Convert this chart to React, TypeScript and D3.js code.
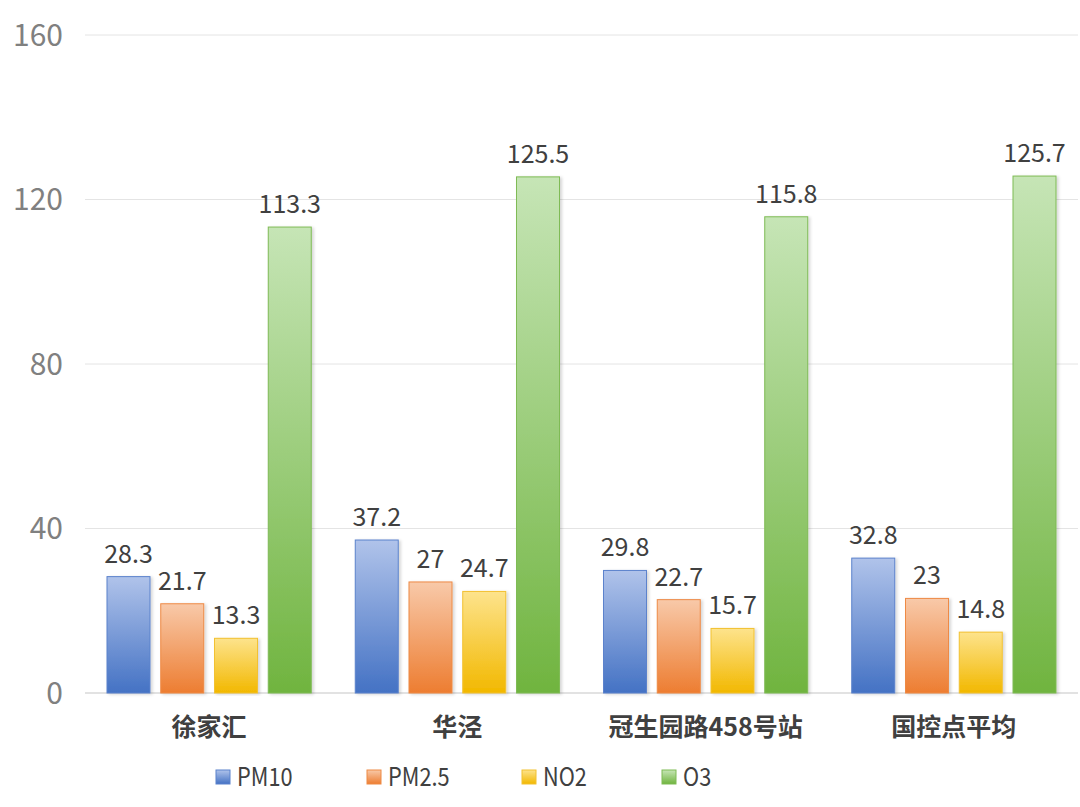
import React from 'react';
import * as d3 from 'd3';

const categories = ['徐家汇', '华泾', '冠生园路458号站', '国控点平均'];
const seriesNames = ['PM10', 'PM2.5', 'NO2', 'O3'];
const pm10 = [28.3, 37.2, 29.8, 32.8];
const pm25 = [21.7, 27, 22.7, 23];
const no2 = [13.3, 24.7, 15.7, 14.8];
const o3 = [113.3, 125.5, 115.8, 125.7];
const yTicks = [0, 40, 80, 120, 160];

const seriesValues = [pm10, pm25, no2, o3];
const colors = [
  { top: '#b0c3ea', bottom: '#4472c4', stroke: '#5b82cc' },
  { top: '#f8c9a9', bottom: '#ed7d31', stroke: '#ee8a45' },
  { top: '#fde38c', bottom: '#f2b800', stroke: '#f2c130' },
  { top: '#c6e5b6', bottom: '#70b43f', stroke: '#7fbb55' },
];

const W = 1080;
const H = 807;
const plot = { left: 85, right: 1078, top: 35, bottom: 693 };
const font = '"Noto Sans CJK SC", "Noto Sans", sans-serif';

const App: React.FC = () => {
  const x0 = d3.scaleBand<string>().domain(categories).range([plot.left, plot.right]);
  const x1 = d3.scaleBand<string>()
    .domain(seriesNames)
    .range([22, x0.bandwidth() - 22])
    .paddingInner(0.2);
  const y = d3.scaleLinear().domain([0, 160]).range([plot.bottom, plot.top]);

  const legendX = [216, 367, 522, 662];

  return (
    <div style={{ position: 'fixed', left: 0, top: 0, background: '#fff' }}>
      <svg width={W} height={H} style={{ display: 'block' }}>
        <defs>
          {colors.map((c, i) => (
            <linearGradient key={i} id={`grad${i}`} x1="0" y1="0" x2="0" y2="1">
              <stop offset="0%" stopColor={c.top} />
              <stop offset="100%" stopColor={c.bottom} />
            </linearGradient>
          ))}
          <filter id="shadow" x="-20%" y="-5%" width="140%" height="110%">
            <feDropShadow dx="2" dy="1" stdDeviation="1.5" floodColor="#000" floodOpacity="0.16" />
          </filter>
        </defs>
        <rect width={W} height={H} fill="#fff" />

        {/* grid + y axis labels */}
        {yTicks.map(t => (
          <g key={t}>
            <line
              x1={plot.left}
              x2={plot.right}
              y1={y(t)}
              y2={y(t)}
              stroke={t === 0 ? '#d9d9d9' : '#e4e4e4'}
              strokeWidth={t === 0 ? 1.5 : 1}
            />
            <text
              x={63}
              y={y(t)}
              dy="0.36em"
              textAnchor="end"
              fontFamily={font}
              fontSize={30}
              fill="#808080"
            >
              {t}
            </text>
          </g>
        ))}

        {/* bars */}
        {categories.map((cat, ci) => (
          <g key={cat} transform={`translate(${x0(cat)},0)`}>
            {seriesNames.map((s, si) => {
              const v = seriesValues[si][ci];
              const bx = x1(s)!;
              const bw = x1.bandwidth();
              return (
                <g key={s}>
                  <rect
                    x={bx}
                    y={y(v)}
                    width={bw}
                    height={y(0) - y(v)}
                    fill={`url(#grad${si})`}
                    stroke={colors[si].stroke}
                    strokeWidth={1}
                    filter="url(#shadow)"
                  />
                  <text
                    x={bx + bw / 2}
                    y={y(v) - 14}
                    textAnchor="middle"
                    fontFamily={font}
                    fontSize={25}
                    fill="#404040"
                  >
                    {v}
                  </text>
                </g>
              );
            })}
          </g>
        ))}

        {/* category labels */}
        {categories.map(cat => (
          <text
            key={cat}
            x={x0(cat)! + x0.bandwidth() / 2}
            y={727}
            dy="0.35em"
            textAnchor="middle"
            fontFamily={font}
            fontSize={25}
            fontWeight="bold"
            fill="#404040"
          >
            {cat}
          </text>
        ))}

        {/* legend */}
        {seriesNames.map((s, i) => (
          <g key={s} transform={`translate(${legendX[i]},777)`}>
            <rect
              x={0}
              y={-7}
              width={14}
              height={14}
              fill={`url(#grad${i})`}
              stroke={colors[i].stroke}
              strokeWidth={1}
            />
            <text
              transform="translate(21,0) scale(0.87,1)"
              dy="0.35em"
              fontFamily={font}
              fontSize={25}
              fill="#404040"
            >
              {s}
            </text>
          </g>
        ))}
      </svg>
    </div>
  );
};

export default App;
